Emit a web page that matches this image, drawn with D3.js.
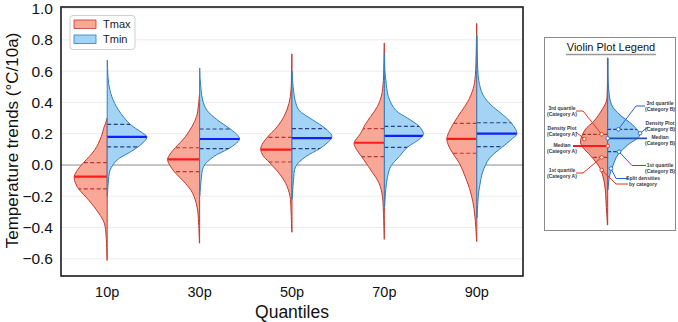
<!DOCTYPE html>
<html>
<head>
<meta charset="utf-8">
<script src="https://cdn.jsdelivr.net/npm/d3@7/dist/d3.min.js"></script>
<style>
  html, body { margin: 0; padding: 0; background: #fff; }
  svg { display: block; font-family: "Liberation Sans", Arial, sans-serif; }
</style>
</head>
<body>
<svg id="chart" width="678" height="322"></svg>
<script>
// ---------------- DATA ----------------
const quantiles = ["10p", "30p", "50p", "70p", "90p"];
const seriesNames = ["Tmax", "Tmin"];
const yTicks = [-0.6, -0.4, -0.2, 0.0, 0.2, 0.4, 0.6, 0.8, 1.0];

const tmaxMedian = [-0.075, 0.036, 0.098, 0.142, 0.167];
const tmaxQ1 = [-0.153, -0.043, 0.019, 0.053, 0.075];
const tmaxQ3 = [0.015, 0.11, 0.177, 0.232, 0.266];

const tminMedian = [0.18, 0.166, 0.172, 0.186, 0.2];
const tminQ1 = [0.115, 0.104, 0.104, 0.113, 0.117];
const tminQ3 = [0.26, 0.23, 0.232, 0.247, 0.27];

// density profiles: [value, density]
const tmaxDensity10 = [[0.3,0.02],[0.27,0.15],[0.245,0.3],[0.18,0.6],[0.096,1.25],[0.015,2.36],[-0.03,2.95],[-0.075,3.3],[-0.12,3.15],[-0.153,2.86],[-0.224,1.86],[-0.307,0.86],[-0.37,0.3],[-0.46,0.1],[-0.61,0.02]];
const tmaxDensity30 = [[0.45,0.02],[0.39,0.1],[0.31,0.3],[0.245,0.77],[0.18,1.43],[0.11,2.43],[0.07,2.95],[0.036,3.2],[0.0,3.0],[-0.043,2.53],[-0.117,1.43],[-0.18,0.7],[-0.27,0.25],[-0.37,0.1],[-0.5,0.02]];
const tmaxDensity50 = [[0.71,0.02],[0.6,0.05],[0.48,0.1],[0.394,0.3],[0.31,0.8],[0.245,1.47],[0.177,2.47],[0.13,3.0],[0.1,3.13],[0.06,2.9],[0.019,2.3],[-0.053,1.3],[-0.117,0.63],[-0.2,0.2],[-0.29,0.1],[-0.43,0.02]];
const tmaxDensity70 = [[0.78,0.02],[0.65,0.05],[0.54,0.1],[0.44,0.3],[0.373,0.7],[0.31,1.37],[0.26,1.9],[0.232,2.13],[0.2,2.4],[0.14,3.03],[0.1,2.8],[0.053,2.27],[-0.032,1.37],[-0.117,0.53],[-0.2,0.2],[-0.3,0.1],[-0.475,0.02]];
const tmaxDensity90 = [[0.905,0.02],[0.75,0.05],[0.57,0.15],[0.49,0.35],[0.405,0.9],[0.34,1.57],[0.266,2.33],[0.2,2.85],[0.166,3.0],[0.12,2.8],[0.075,2.4],[0.01,1.73],[-0.064,1.23],[-0.15,0.73],[-0.234,0.4],[-0.32,0.2],[-0.4,0.1],[-0.49,0.02]];

const tminDensity10 = [[0.67,0.02],[0.6,0.05],[0.52,0.15],[0.436,0.47],[0.35,1.14],[0.26,2.3],[0.21,3.4],[0.18,3.97],[0.15,3.7],[0.115,3.07],[0.075,2.1],[0.032,1.0],[-0.032,0.3],[-0.12,0.1],[-0.2,0.02]];
const tminDensity30 = [[0.62,0.02],[0.55,0.05],[0.48,0.15],[0.415,0.3],[0.35,0.73],[0.29,1.73],[0.23,3.07],[0.19,3.8],[0.166,4.0],[0.135,3.6],[0.104,2.9],[0.053,1.4],[-0.01,0.4],[-0.1,0.15],[-0.2,0.02]];
const tminDensity50 = [[0.6,0.02],[0.52,0.08],[0.48,0.15],[0.415,0.3],[0.35,0.7],[0.29,2.03],[0.232,3.37],[0.19,3.97],[0.17,3.95],[0.14,3.5],[0.104,2.77],[0.053,1.37],[-0.01,0.37],[-0.1,0.15],[-0.22,0.02]];
const tminDensity70 = [[0.71,0.02],[0.6,0.05],[0.54,0.15],[0.436,0.4],[0.35,1.13],[0.3,2.3],[0.247,3.47],[0.2,3.9],[0.17,3.6],[0.113,2.3],[0.053,1.47],[-0.01,0.63],[-0.08,0.3],[-0.15,0.15],[-0.27,0.02]];
const tminDensity90 = [[0.83,0.02],[0.7,0.05],[0.54,0.2],[0.45,0.6],[0.383,1.43],[0.33,2.43],[0.27,3.43],[0.2,4.0],[0.16,3.4],[0.117,2.6],[0.043,1.27],[-0.043,0.6],[-0.13,0.3],[-0.2,0.15],[-0.34,0.02]];

// explanatory legend violin (schematic, arbitrary units 0..100)
const legendADensity = [[100,0.03],[85,0.03],[75,0.1],[73,0.2],[62.9,1.27],[56.9,2.27],[49.1,2.7],[40.7,1.6],[34.1,0.77],[24,0.3],[12,0.15],[0,0.03]];
const legendBDensity = [[100,0.03],[80.8,0.1],[71.9,0.4],[65.9,1.23],[59.9,2.5],[53.9,3.2],[47.9,2.0],[41.9,1.0],[35.9,0.55],[29.9,0.2],[21,0.03]];
const legendAStats = [40.5, 47.3, 54.3]; // Q1, median, Q3
const legendBStats = [43.9, 51.9, 57.3];

// ---------------- BUILD ----------------
const tmaxDens = [tmaxDensity10, tmaxDensity30, tmaxDensity50, tmaxDensity70, tmaxDensity90];
const tminDens = [tminDensity10, tminDensity30, tminDensity50, tminDensity70, tminDensity90];

const svg = d3.select("#chart");
const plot = { left: 61, right: 523, top: 7, bottom: 276 };

const x = d3.scaleBand().domain(quantiles).range([plot.left, plot.right]).padding(0);
const y = d3.scaleLinear().domain([-0.71, 1.01]).range([plot.bottom, plot.top]);
const w = d3.scaleLinear().domain([0, 4]).range([0, 40]);

const colors = {
  Tmax: { fill: "#f9a797", stroke: "#c23a2c", median: "#ff1a1a", quart: "#b53a33" },
  Tmin: { fill: "#a3d3f5", stroke: "#2f7fbd", median: "#1020ff", quart: "#2a3a8c" }
};

const defs = svg.append("defs");

// grid lines
svg.append("g").selectAll("line").data(yTicks.filter(t => t !== 0)).join("line")
  .attr("x1", plot.left).attr("x2", plot.right)
  .attr("y1", d => y(d)).attr("y2", d => y(d))
  .attr("stroke", "#ececec").attr("stroke-width", 1);
// zero line
svg.append("line")
  .attr("x1", plot.left).attr("x2", plot.right)
  .attr("y1", y(0)).attr("y2", y(0))
  .attr("stroke", "#8c8c8c").attr("stroke-width", 1.1);

function drawHalf(g, dens, side, c, stats, id) {
  const cx = x(quantiles[id.idx]) + x.bandwidth() / 2;
  const area = d3.area()
    .curve(d3.curveCatmullRom.alpha(0.5))
    .y(d => y(d[0]))
    .x0(cx)
    .x1(d => cx + side * w(d[1]));
  const pathD = area(dens);
  const clipId = "clip-" + id.name + "-" + id.idx;
  defs.append("clipPath").attr("id", clipId).append("path").attr("d", pathD);
  g.append("path").attr("d", pathD)
    .attr("fill", c.fill).attr("stroke", c.stroke).attr("stroke-width", 1)
    .attr("stroke-linejoin", "round");
  const cg = g.append("g").attr("clip-path", "url(#" + clipId + ")");
  const x2 = cx + side * 45;
  [stats[0], stats[2]].forEach(v => {
    cg.append("line").attr("x1", cx).attr("x2", x2).attr("y1", y(v)).attr("y2", y(v))
      .attr("stroke", c.quart).attr("stroke-width", 1.2).attr("stroke-dasharray", "4,2.5");
  });
  cg.append("line").attr("x1", cx).attr("x2", x2).attr("y1", y(stats[1])).attr("y2", y(stats[1]))
    .attr("stroke", c.median).attr("stroke-width", 2.2);
}

const vg = svg.append("g");
quantiles.forEach((q, i) => {
  drawHalf(vg, tmaxDens[i], -1, colors.Tmax, [tmaxQ1[i], tmaxMedian[i], tmaxQ3[i]], { name: "tmax", idx: i });
  drawHalf(vg, tminDens[i], 1, colors.Tmin, [tminQ1[i], tminMedian[i], tminQ3[i]], { name: "tmin", idx: i });
});

// frame
svg.append("rect")
  .attr("x", plot.left).attr("y", plot.top)
  .attr("width", plot.right - plot.left).attr("height", plot.bottom - plot.top)
  .attr("fill", "none").attr("stroke", "#1a1a1a").attr("stroke-width", 1.6);

// axes
const yAxis = d3.axisLeft(y).tickValues(yTicks).tickSize(0).tickPadding(8)
  .tickFormat(d => d3.format(".1f")(d).replace("-", "\u2212"));
const ya = svg.append("g").attr("transform", `translate(${plot.left},0)`).call(yAxis);
ya.select(".domain").remove();
ya.selectAll("text").attr("font-size", 15.5).attr("fill", "#111")
  .attr("font-family", "'Liberation Sans', Arial, sans-serif");

const xAxis = d3.axisBottom(x).tickSize(0).tickPadding(11);
const xa = svg.append("g").attr("transform", `translate(0,${plot.bottom})`).call(xAxis);
xa.select(".domain").remove();
xa.selectAll("text").attr("font-size", 14.5).attr("fill", "#111")
  .attr("font-family", "'Liberation Sans', Arial, sans-serif");

svg.append("text").attr("x", (plot.left + plot.right) / 2).attr("y", 318)
  .attr("text-anchor", "middle").attr("font-size", 17.5).attr("fill", "#111").text("Quantiles");
svg.append("text")
  .attr("transform", `translate(18,${(plot.top + plot.bottom) / 2 - 1}) rotate(-90)`)
  .attr("text-anchor", "middle").attr("font-size", 17).attr("fill", "#111")
  .text("Temperature trends (\u00B0C/10a)");

// series legend
const lg = svg.append("g");
lg.append("rect").attr("x", 70).attr("y", 15.5).attr("width", 65).attr("height", 34)
  .attr("rx", 3).attr("fill", "#fff").attr("stroke", "#d0d0d0").attr("stroke-width", 1);
seriesNames.forEach((s, i) => {
  const yy = 20 + i * 15;
  lg.append("rect").attr("x", 74).attr("y", yy).attr("width", 22).attr("height", 8.5)
    .attr("fill", colors[s].fill).attr("stroke", colors[s].stroke).attr("stroke-width", 0.8);
  lg.append("text").attr("x", 103).attr("y", yy + 8.2).attr("font-size", 11)
    .attr("fill", "#222").text(s);
});

// ---------------- explanatory legend panel ----------------
const pg = svg.append("g");
pg.append("rect").attr("x", 544.5).attr("y", 37.5).attr("width", 131).attr("height", 193)
  .attr("fill", "#fff").attr("stroke", "#8a8a8a").attr("stroke-width", 1);
pg.append("text").attr("x", 611).attr("y", 50.5).attr("text-anchor", "middle")
  .attr("font-size", 11).attr("fill", "#111").text("Violin Plot Legend");
pg.append("line").attr("x1", 566).attr("x2", 656).attr("y1", 54.5).attr("y2", 54.5)
  .attr("stroke", "#999").attr("stroke-width", 1.5);

const lcx = 607.7;
const ly = d3.scaleLinear().domain([0, 100]).range([225, 58]);
const lw = d3.scaleLinear().domain([0, 1]).range([0, 10]);
function legendHalf(dens, side, fill, stroke, stats, medColor, quartColor, name) {
  const area = d3.area().curve(d3.curveCatmullRom.alpha(0.5))
    .y(d => ly(d[0])).x0(lcx).x1(d => lcx + side * lw(d[1]));
  const pd = area(dens);
  defs.append("clipPath").attr("id", "lclip-" + name).append("path").attr("d", pd);
  pg.append("path").attr("d", pd).attr("fill", fill).attr("stroke", stroke).attr("stroke-width", 1);
  const cg = pg.append("g").attr("clip-path", "url(#lclip-" + name + ")");
  [stats[0], stats[2]].forEach(v => {
    cg.append("line").attr("x1", lcx).attr("x2", lcx + side * 40).attr("y1", ly(v)).attr("y2", ly(v))
      .attr("stroke", quartColor).attr("stroke-width", 1.2).attr("stroke-dasharray", "3.5,2");
  });
}
legendHalf(legendADensity, -1, "#f29a88", "#b8352a", legendAStats, "#ff1a1a", "#a83028", "a");
legendHalf(legendBDensity, 1, "#93cbf2", "#2a6fc0", legendBStats, "#1f4fbf", "#1f3f8f", "b");
// median lines extending to labels
pg.append("line").attr("x1", 573).attr("x2", lcx).attr("y1", ly(legendAStats[1])).attr("y2", ly(legendAStats[1]))
  .attr("stroke", "#ff1a1a").attr("stroke-width", 1.8);
pg.append("line").attr("x1", lcx).attr("x2", 647).attr("y1", ly(legendBStats[1])).attr("y2", ly(legendBStats[1]))
  .attr("stroke", "#1f4fbf").attr("stroke-width", 1.8);

const red = "#e8321e", blue = "#2563c4";
const connectors = [
  { pts: [[576, 111], [583, 111], [601.7, ly(legendAStats[2])]], color: red },
  { pts: [[576, 132], [584.3, 139]], color: red },
  { pts: [[576, 173], [583, 173], [601.7, ly(legendAStats[0])]], color: red },
  { pts: [[601.7, 170], [616, 184], [628, 184]], color: red },
  { pts: [[618.3, ly(legendBStats[2])], [636, 106], [645, 106]], color: blue },
  { pts: [[640, 133.3], [648, 127]], color: blue },
  { pts: [[619, ly(legendBStats[0])], [632, 165.5], [646, 165.5]], color: blue },
  { pts: [[611, 168.5], [616, 178.5], [628, 178.5]], color: blue }
];
const line = d3.line();
connectors.forEach(c => {
  pg.append("path").attr("d", line(c.pts)).attr("fill", "none").attr("stroke", c.color).attr("stroke-width", 1);
});
const markers = [
  [601.7, ly(legendAStats[2]), red], [584.3, 139, red], [lcx, ly(legendAStats[1]), red],
  [601.7, ly(legendAStats[0]), red], [601.7, 170, red],
  [618.3, ly(legendBStats[2]), blue], [640, 133.3, blue], [lcx, ly(legendBStats[1]), blue],
  [619, ly(legendBStats[0]), blue], [611, 168.5, blue]
];
pg.selectAll("circle.mk").data(markers).join("circle").attr("class", "mk")
  .attr("cx", d => d[0]).attr("cy", d => d[1]).attr("r", 1.8)
  .attr("fill", "#fff").attr("stroke", d => d[2]).attr("stroke-width", 0.9);

const labels = [
  { x: 562, y: 110, t: ["3rd quartile", "(Category A)"] },
  { x: 562, y: 130, t: ["Density Plot", "(Category A)"] },
  { x: 562, y: 147, t: ["Median", "(Category A)"] },
  { x: 562, y: 172, t: ["1st quartile", "(Category A)"] },
  { x: 660, y: 105, t: ["3rd quartile", "(Category B)"] },
  { x: 660, y: 125, t: ["Density Plot", "(Category B)"] },
  { x: 660, y: 138.5, t: ["Median", "(Category B)"] },
  { x: 660, y: 167, t: ["1st quartile", "(Category B)"] },
  { x: 643, y: 179.5, t: ["Split densities", "by category"] }
];
labels.forEach(l => {
  const t = pg.append("text").attr("text-anchor", "middle").attr("font-size", 5)
    .attr("font-weight", "bold").attr("fill", "#3a3a3a");
  l.t.forEach((s, k) => t.append("tspan").attr("x", l.x).attr("y", l.y + k * 6).text(s));
});
</script>
</body>
</html>
